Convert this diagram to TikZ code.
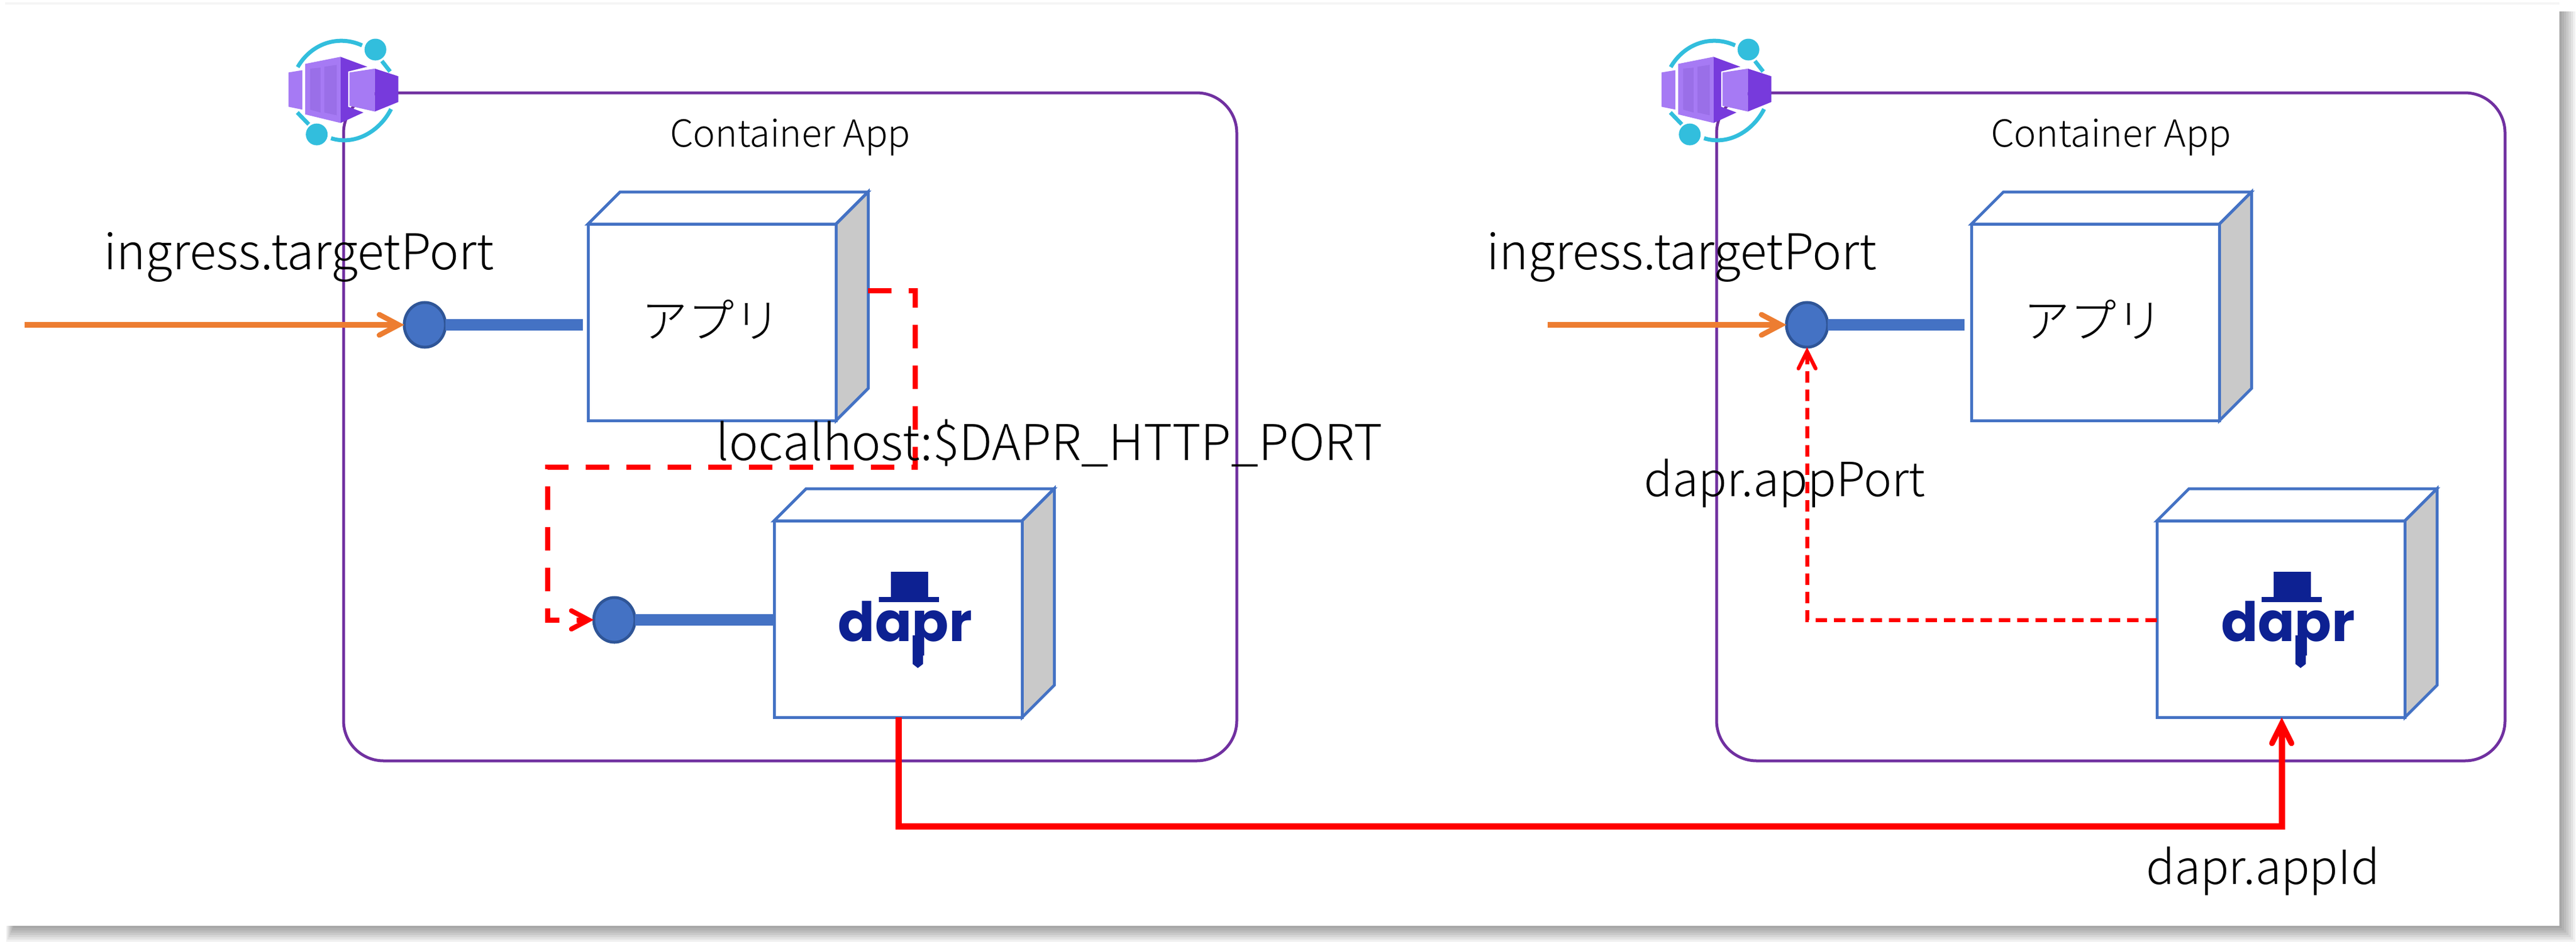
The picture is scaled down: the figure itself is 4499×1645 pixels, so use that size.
\documentclass[tikz,border=0pt]{standalone}
\usepackage{fontspec}
\setmainfont{Noto Sans CJK JP Light}
\newfontfamily\dfont{Poppins}[BoldFont=* Bold]
\usetikzlibrary{arrows.meta,shapes.geometric}
\definecolor{boxblue}{HTML}{4472C4}
\definecolor{portline}{HTML}{2F5597}
\definecolor{boxpurple}{HTML}{7030A0}
\definecolor{flow}{HTML}{ED7D31}
\definecolor{sidegrey}{HTML}{C9C9C9}
\definecolor{ringc}{HTML}{32BEDD}
\definecolor{lilac}{HTML}{A67AF4}
\definecolor{lilacd}{HTML}{773ADC}
\definecolor{lilacm}{HTML}{9A6FE8}
\definecolor{daprc}{HTML}{0D2192}
\tikzset{
 x=0.01cm,y=-0.01cm,
 ca/.style={draw=boxpurple,line width=0.05cm,rounded corners=0.7cm},
 front/.style={draw=boxblue,line width=0.05cm,fill=white,inner sep=0pt,outer sep=0pt,minimum width=4.33cm,minimum height=3.43cm,anchor=north west},
 cubeline/.style={draw=boxblue,line width=0.05cm,line join=miter},
 port/.style={ellipse,draw=portline,line width=0.05cm,fill=boxblue,minimum width=0.72cm,minimum height=0.78cm,inner sep=0pt,outer sep=0pt},
 plug/.style={draw=boxblue,line width=0.2cm},
 ingress/.style={draw=flow,line width=0.1cm,-{Straight Barb[line cap=round,line join=miter,length=0.34cm,width=0.36cm,line width=0.09cm]}},
 hop/.style={draw=red,line width=0.11cm,-{Straight Barb[line cap=round,line join=miter,length=0.34cm,width=0.34cm,line width=0.1cm]}},
 dashhop/.style={draw=red,line width=0.09cm,dash pattern=on 0.41cm off 0.30cm,-{Straight Barb[line cap=round,line join=miter,length=0.3cm,width=0.32cm,line width=0.085cm]}},
 thinhop/.style={draw=red,line width=0.07cm,dash pattern=on 0.2cm off 0.12cm,-{Straight Barb[line cap=round,line join=miter,length=0.3cm,width=0.3cm,line width=0.065cm]}},
 lbl/.style={font=\fontsize{23.4pt}{28pt}\selectfont,inner sep=0pt,anchor=center},
 lblwide/.style={font=\fontsize{24.5pt}{28pt}\selectfont,inner sep=0pt,anchor=center},
 title/.style={font=\fontsize{18.5pt}{20pt}\selectfont,inner sep=0pt,anchor=center},
 kana/.style={font=\fontsize{23pt}{28pt}\selectfont,inner sep=0pt,anchor=center},
}
\newcommand{\cubebox}[3]{%
 \node[front] (#1) at (#2,#3) {};
 \path[cubeline,fill=white] (#1.north west) -- ++(56,-56) -- ++(433,0) -- ++(-56,56) -- cycle;
 \path[cubeline,fill=sidegrey] (#1.north east) -- ++(56,-56) -- ++(0,343) -- ++(-56,56) -- cycle;
}
\newcommand{\appicon}[1]{%
 \begin{scope}[shift={(#1,0)},x=0.003333cm,y=-0.003333cm]
  \draw[ringc,line width=0.07cm] (210,352) .. controls (280,230) and (420,180) .. (548,238);
  \draw[ringc,line width=0.07cm] (385,725) .. controls (510,765) and (640,690) .. (700,572);
  \draw[ringc,line width=0.07cm] (652,320) -- (695,375);
  \draw[ringc,line width=0.07cm] (208,590) -- (268,652);
  \fill[ringc] (618,260) circle (0.19cm);
  \fill[ringc] (310,705) circle (0.19cm);
  \fill[lilacd] (435,298) -- (575,350) -- (475,375) -- (475,560) -- (555,590) -- (435,645) -- cycle;
  \fill[lilac] (250,335) -- (435,298) -- (435,645) -- (250,600) -- cycle;
  \fill[lilacm] (275,360) -- (330,355) -- (330,590) -- (275,575) -- cycle;
  \fill[lilacm] (350,350) -- (415,340) -- (415,605) -- (350,590) -- cycle;
  \fill[lilac] (482,380) -- (615,360) -- (615,585) -- (482,555) -- cycle;
  \fill[lilacd] (615,360) -- (738,400) -- (738,535) -- (615,585) -- cycle;
  \fill[lilac] (162,380) -- (235,368) -- (235,575) -- (162,560) -- cycle;
 \end{scope}
}
\newcommand{\daprmark}[2]{%
 \begin{scope}[shift={(#1,#2)}]
  \fill[daprc] (204,89) rectangle (269,133);
  \fill[daprc] (183,133) rectangle (288,142);
  \fill[daprc] (242,200) -- (260,200) -- (260,250) -- (251,257) -- (242,250) -- cycle;
  \node[inner sep=0pt,anchor=base,text=daprc,font=\dfont\bfseries\fontsize{27pt}{30pt}\selectfont] at (229,210) {dapr};
 \end{scope}
}
\begin{document}
\begin{tikzpicture}
\useasboundingbox (0,0) rectangle (4499,1645);
% page card with soft shadow
\foreach \i in {28,24,20,16,12,8,4}{
 \fill[black,opacity=0.06] (25-\i/2,20) rectangle (4470+\i,1616+\i);
}
\fill[black!4] (9,4) rectangle (4470,8);
\fill[white] (9,8) rectangle (4470,1616);
% containers
\draw[ca] (600,162) rectangle (2160,1328);
\draw[ca] (2998,162) rectangle (4375,1328);
\appicon{450}
\appicon{2848}
\node[title] (cat1) at (1380,240) {Container App};
\node[title] (cat2) at (3687,240) {Container App};
% cubes
\cubebox{appA}{1027}{391}
\cubebox{daprA}{1352}{909}
\cubebox{appB}{3443}{391}
\cubebox{daprB}{3767}{909}
\node[kana] (kanaA) at (1242,558) {アプリ};
\node[kana] (kanaB) at (3656,558) {アプリ};
\daprmark{1352}{909}
\daprmark{3767}{909}
% ports
\node[port] (pA) at (742,567) {};
\node[port] (pB) at (1073,1082) {};
\node[port] (pC) at (3156,567) {};
\draw[plug,shorten >=0.09cm] (pA.east) -- (pA.east -| appA.west);
\draw[plug] (pB.east) -- (pB.east -| daprA.west);
\draw[plug,shorten >=0.12cm] (pC.east) -- (pC.east -| appB.west);
% ingress
\coordinate (inA) at (43,567);
\coordinate (inB) at (2703,567);
\draw[ingress] (inA) -- (pA.west);
\draw[ingress] (inB) -- (pC.west);
% red
\coordinate (sA) at (1516,507);
\coordinate (hA) at (1569,0);
\coordinate (hB) at (3985,0);
\draw[dashhop] (sA) -- (1598,507) -- (1598,815) -- (956,815) -- (956,1082) -- (pB.west);
\draw[thinhop] (daprB.west |- pB.center) -- (pC.south |- pB.center) -- (pC.south);
\draw[hop] (daprA.south -| hA) -- (1569,1442) -- (3985,1442) -- (daprB.south -| hB);
% labels
\node[lblwide] (l1) at (522,449) {ingress.targetPort};
\node[lblwide] (l2) at (2937,449) {ingress.targetPort};
\node[lblwide] (l3) at (1833,773) {localhost:\$DAPR\_HTTP\_PORT};
\node[lbl] (l4) at (3117,844) {dapr.appPort};
\node[lbl] (l5) at (3952,1521) {dapr.appId};
\end{tikzpicture}
\end{document}
